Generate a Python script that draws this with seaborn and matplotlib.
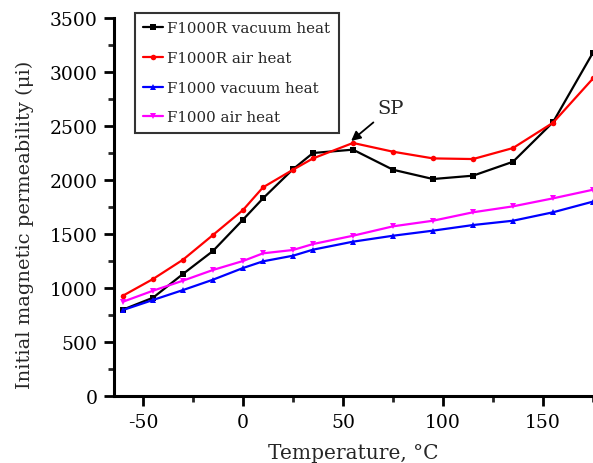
import matplotlib
matplotlib.use("Agg")
import matplotlib.pyplot as plt
import seaborn as sns
import pandas as pd

temperature = [-60, -45, -30, -15, 0, 10, 25, 35, 55, 75, 95, 115, 135, 155, 175]
f1000r_vacuum = [800, 910, 1130, 1343, 1633, 1830, 2100, 2250, 2281, 2095, 2009, 2040, 2169, 2535, 3180]
f1000r_air = [929, 1083, 1262, 1491, 1722, 1932, 2095, 2200, 2343, 2262, 2200, 2194, 2296, 2530, 2940]
f1000_vacuum = [796, 889, 981, 1077, 1185, 1247, 1299, 1355, 1429, 1484, 1531, 1583, 1623, 1701, 1800]
f1000_air = [873, 975, 1068, 1167, 1250, 1321, 1352, 1407, 1484, 1571, 1623, 1701, 1756, 1830, 1910]
series_names = ["F1000R vacuum heat", "F1000R air heat", "F1000 vacuum heat", "F1000 air heat"]
x_ticks = [-50, 0, 50, 100, 150]
y_ticks = [0, 500, 1000, 1500, 2000, 2500, 3000, 3500]

frames = []
for name, vals in zip(series_names, [f1000r_vacuum, f1000r_air, f1000_vacuum, f1000_air]):
    frames.append(pd.DataFrame({"T": temperature, "mu": vals, "series": name}))
df = pd.concat(frames, ignore_index=True)

sns.set_style("ticks")
plt.rcParams["font.family"] = ["DejaVu Serif"]

fig = plt.figure(figsize=(5.93, 4.64), dpi=100)
ax = fig.add_axes([114/593, 1-397/464, 1-114/593, (397-19)/464])

palette = {series_names[0]: "black", series_names[1]: "#ff0000",
           series_names[2]: "#0000ff", series_names[3]: "#ff00ff"}
markers = {series_names[0]: "s", series_names[1]: "o",
           series_names[2]: "^", series_names[3]: "v"}
sns.lineplot(data=df, x="T", y="mu", hue="series", style="series",
             palette=palette, markers=markers, dashes=False,
             hue_order=series_names, style_order=series_names,
             linewidth=1.6, markersize=4, markeredgewidth=0, ax=ax)

ax.set_xlim(-64.5, 175)
ax.set_ylim(0, 3500)
ax.set_xticks(x_ticks)
ax.set_xticklabels([str(v) for v in x_ticks])
ax.set_yticks(y_ticks)
ax.set_xticks([-25, 25, 75, 125, 175], minor=True)
ax.set_yticks([250, 750, 1250, 1750, 2250, 2750, 3250], minor=True)
ax.tick_params(axis="both", which="major", direction="out", length=7, width=2, labelsize=13.5, pad=5, colors="black")
ax.tick_params(axis="both", which="minor", direction="out", length=4.5, width=2)
for s in ["left", "bottom"]:
    ax.spines[s].set_linewidth(2.2)
    ax.spines[s].set_color("black")
ax.spines["top"].set_visible(False)
ax.spines["right"].set_visible(False)
ax.set_xlabel("Temperature, °C", fontsize=14.5)
ax.set_ylabel("Initial magnetic permeability (μi)", fontsize=14)
ax.xaxis.set_label_coords(0.5, -0.125)
ax.yaxis.set_label_coords(-0.168, 0.455)

ax.annotate("SP", xy=(53, 2345), xytext=(67, 2580), fontsize=14,
            arrowprops=dict(arrowstyle="-|>", color="black", lw=1.3, mutation_scale=14),
            ha="left", va="bottom")

leg = ax.legend(loc="upper left", bbox_to_anchor=(135/593, 1-14/464),
                bbox_transform=fig.transFigure, fontsize=10.8, frameon=True,
                fancybox=False, edgecolor="black", handlelength=1.3,
                handletextpad=0.3, borderpad=0.55, labelspacing=1.05, borderaxespad=0)
leg.get_frame().set_linewidth(1.5)

fig.savefig("out.png", dpi=100)
